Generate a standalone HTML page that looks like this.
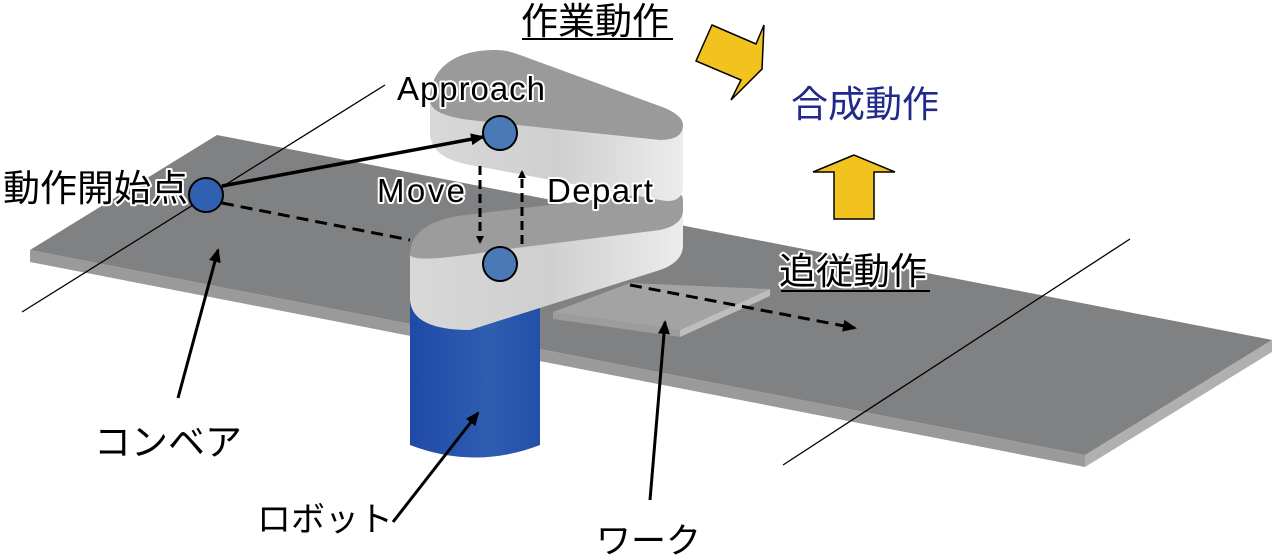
<!DOCTYPE html>
<html><head><meta charset="utf-8"><style>
html,body{margin:0;padding:0;background:#fff;}
svg{display:block}
text{font-family:"Liberation Sans","Noto Sans CJK JP",sans-serif;}
.o{paint-order:stroke;stroke:#fff;stroke-width:4px;stroke-linejoin:round;fill:#000}
</style></head><body>
<svg width="1273" height="558" viewBox="0 0 1273 558" xmlns="http://www.w3.org/2000/svg">
<defs>
<marker id="ah" markerWidth="8" markerHeight="8" refX="6" refY="4" orient="auto" markerUnits="userSpaceOnUse">
<path d="M0,0 L8,4 L0,8 z" fill="#000"/></marker>
<marker id="ah2" markerWidth="14" markerHeight="12" refX="12" refY="6" orient="auto" markerUnits="userSpaceOnUse">
<path d="M0,0 L14,6 L0,12 z" fill="#000"/></marker>
<linearGradient id="blue" x1="0" x2="1"><stop offset="0" stop-color="#1f4aa8"/><stop offset="0.6" stop-color="#2f5db0"/><stop offset="1" stop-color="#2350a8"/></linearGradient>
<linearGradient id="side" x1="0" x2="1"><stop offset="0" stop-color="#d8d8d8"/><stop offset="0.5" stop-color="#cfcfcf"/><stop offset="1" stop-color="#ececec"/></linearGradient>
</defs>
<polygon points="30,250 1085,455 1085,467 30,262" fill="#9a9a9a"/>
<polygon points="1085,455 1272,340 1272,352 1085,467" fill="#b0b0b0"/>
<polygon points="30,250 217,135 1272,340 1085,455" fill="#808183"/>
<polygon points="553,312 680,330 680,337 553,319" fill="#9c9c9c"/>
<polygon points="680,330 770,289 770,296 680,337" fill="#bdbdbd"/>
<polygon points="553,312 630,283 770,289 680,330" fill="#a3a3a3"/>
<line x1="22" y1="312" x2="385" y2="85" stroke="#000" stroke-width="1.3"/>
<line x1="783" y1="465" x2="1130" y2="239" stroke="#000" stroke-width="1.3"/>
<line x1="630" y1="285" x2="855" y2="328" stroke="#000" stroke-width="3" stroke-dasharray="12,7" marker-end="url(#ah2)"/>
<line x1="222" y1="203" x2="410" y2="240" stroke="#000" stroke-width="3" stroke-dasharray="12,7"/>
<path d="M410,300 L410,445 Q475,470 540,445 L540,300 Z" fill="url(#blue)"/>
<path d="M410,255 L410,300 Q412,330 470,330 L660,270 Q683,262 683,245 L683,195 L470,220 Z" fill="url(#side)"/>
<path d="M410,255 Q410,222 465,215 L660,192 Q683,190 683,200 L683,210 Q683,225 660,230 L500,250 Q470,255 440,258 Q412,260 410,255 Z" fill="#9c9c9c"/>
<path d="M430,100 L430,135 Q432,158 470,165 L660,200 Q683,205 683,185 L683,125 L470,110 Z" fill="url(#side)"/>
<path d="M430,100 C430,68 455,50 495,50 C505,50 512,52 520,55 L665,108 Q683,116 683,125 Q683,140 660,140 L470,120 Q430,115 430,100 Z" fill="#9a9a9a"/>
<line x1="222" y1="186" x2="483" y2="137" stroke="#000" stroke-width="3.5" marker-end="url(#ah2)"/>
<line x1="480" y1="166" x2="480" y2="242" stroke="#000" stroke-width="3" stroke-dasharray="9,5" marker-end="url(#ah)"/>
<line x1="522" y1="244" x2="522" y2="172" stroke="#000" stroke-width="3" stroke-dasharray="9,5" marker-end="url(#ah)"/>
<circle cx="206" cy="195" r="17" fill="#3060b0" stroke="#000" stroke-width="2"/>
<circle cx="500" cy="133" r="17" fill="#4a7ab5" stroke="#000" stroke-width="2"/>
<circle cx="500" cy="264" r="17" fill="#4a7ab5" stroke="#000" stroke-width="2"/>
<line x1="178" y1="398" x2="218" y2="250" stroke="#000" stroke-width="3" marker-end="url(#ah2)"/>
<line x1="393" y1="522" x2="478" y2="413" stroke="#000" stroke-width="3" marker-end="url(#ah2)"/>
<line x1="650" y1="500" x2="665" y2="322" stroke="#000" stroke-width="3" marker-end="url(#ah2)"/>
<polygon points="712,25 756,44 764,25 762,69 731,100 741,80 696,61" fill="#f2c31f" stroke="#000" stroke-width="1.5"/>
<polygon points="854,155 813,172 834,172 834,219 874,219 874,172 895,172" fill="#f2c31f" stroke="#000" stroke-width="1.5"/>
<text x="521" y="34" font-size="37" class="o">作業動作</text>
<line x1="522" y1="39" x2="673" y2="39" stroke="#000" stroke-width="2"/>
<text x="397" y="100" font-size="33" textLength="148" class="o">Approach</text>
<text x="3" y="201" font-size="37" class="o">動作開始点</text>
<text x="377" y="202" font-size="33" textLength="88" class="o">Move</text>
<text x="547" y="202" font-size="33" textLength="106" class="o">Depart</text>
<text x="779" y="284" font-size="37" class="o">追従動作</text>
<line x1="781" y1="291" x2="930" y2="291" stroke="#000" stroke-width="2"/>
<text x="791" y="117" font-size="37" fill="#1f2a8a">合成動作</text>
<text x="94" y="455" font-size="37" fill="#000">コンベア</text>
<text x="257" y="531" font-size="34" fill="#000">ロボット</text>
<text x="596" y="553" font-size="35" fill="#000">ワーク</text>
</svg>
</body></html>
